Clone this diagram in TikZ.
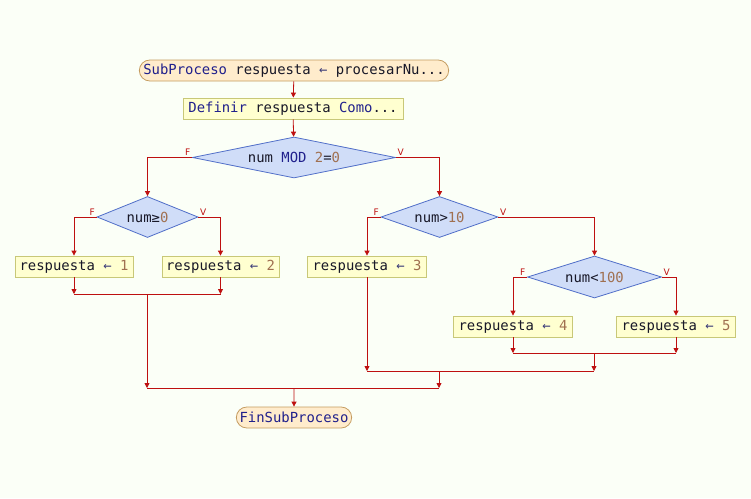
\documentclass[tikz,border=0pt]{standalone}
\usepackage{fontspec}
\usepackage{xcolor}
\newfontfamily\psmono{DejaVu Sans Mono}
\newfontfamily\pssans{DejaVu Sans}
\usetikzlibrary{arrows.meta,shapes.geometric,shapes.misc}
\definecolor{bgmint}{RGB}{251,255,247}
\definecolor{boxfill}{RGB}{255,255,208}
\definecolor{boxline}{RGB}{200,200,120}
\definecolor{condfill}{RGB}{208,221,248}
\definecolor{condline}{RGB}{80,110,200}
\definecolor{termfill}{RGB}{255,236,204}
\definecolor{termline}{RGB}{196,156,96}
\definecolor{flowred}{RGB}{190,16,16}
\definecolor{kwblue}{RGB}{32,32,140}
\definecolor{numbrown}{RGB}{160,112,80}
\definecolor{txtdark}{RGB}{24,24,40}
\definecolor{asgblue}{RGB}{60,60,120}
\newcommand{\kw}[1]{\textcolor{kwblue}{#1}}
\newcommand{\nm}[1]{\textcolor{numbrown}{#1}}
\newcommand{\asg}{\textcolor{asgblue}{←}}

\begin{document}
\begin{tikzpicture}[x=1pt,y=-1pt]
\tikzset{every node/.style={font=\psmono\fontsize{13.9}{14}\selectfont, text=txtdark}}
\tikzset{termbox/.style={rounded rectangle, draw=termline, fill=termfill, line width=0.8pt, minimum height=21pt, inner ysep=2pt}}
\tikzset{actbox/.style={rectangle, draw=boxline, fill=boxfill, line width=0.8pt, minimum height=21pt, inner ysep=2pt}}
\tikzset{cond/.style={diamond, draw=condline, fill=condfill, line width=0.8pt, aspect=4, inner sep=0pt}}
\tikzset{flow/.style={draw=flowred, line width=0.8pt, -{Triangle[length=5pt,width=5pt]}}}
\tikzset{joinline/.style={draw=flowred, line width=0.8pt}}
\tikzset{branch/.style={font=\pssans\fontsize{9}{9}\selectfont, text=flowred, inner sep=1.5pt}}
\fill[bgmint] (0,0) rectangle (751,498);
\node[termbox, minimum width=316pt] (start) at (294,70.5) {\kw{SubProceso} respuesta \asg{} procesarNu...};
\node[actbox, minimum width=220pt] (def) at (293,108.5) {\kw{Definir} respuesta \kw{Como}...};
\node[cond, minimum width=203pt, minimum height=41pt] (d1) at (294,157.5) {num \kw{MOD} \nm{2}=\nm{0}};
\node[cond, minimum width=101pt, minimum height=41pt] (d2) at (147.5,217) {num≥\nm{0}};
\node[cond, minimum width=117pt, minimum height=41pt] (d3) at (439.5,217) {num>\nm{10}};
\node[cond, minimum width=134pt, minimum height=42pt] (d4) at (594.5,277) {num<\nm{100}};
\node[actbox, minimum width=118pt] (b1) at (74,266.5) {respuesta \asg{} \nm{1}};
\node[actbox, minimum width=117pt] (b2) at (220.5,266.5) {respuesta \asg{} \nm{2}};
\node[actbox, minimum width=119pt] (b3) at (367,266.5) {respuesta \asg{} \nm{3}};
\node[actbox, minimum width=119pt] (b4) at (513,326.5) {respuesta \asg{} \nm{4}};
\node[actbox, minimum width=119pt] (b5) at (676,326.5) {respuesta \asg{} \nm{5}};
\node[termbox, minimum width=122pt] (fin) at (294,417.5) {\kw{FinSubProceso}};
\node[branch, anchor=south east] (f1) at (d1.west) {F};
\node[branch, anchor=south west] (v1) at (d1.east) {V};
\node[branch, anchor=south east] (f2) at (d2.west) {F};
\node[branch, anchor=south west] (v2) at (d2.east) {V};
\node[branch, anchor=south east] (f3) at (d3.west) {F};
\node[branch, anchor=south west] (v3) at (d3.east) {V};
\node[branch, anchor=south east] (f4) at (d4.west) {F};
\node[branch, anchor=south west] (v4) at (d4.east) {V};
\coordinate (m12) at (147,294);
\coordinate (m45) at (594,353);
\coordinate (m3) at (439,371);
\coordinate (mend) at (294,388);
\draw[flow] (start) -- (def);
\draw[flow] (def) -- (d1);
\draw[flow] (d1.west) -| (d2.north);
\draw[flow] (d1.east) -| (d3.north);
\draw[flow] (d2.west) -| (b1.north);
\draw[flow] (d2.east) -| (b2.north);
\draw[flow] (d3.west) -| (b3.north);
\draw[flow] (d3.east) -| (d4.north);
\draw[flow] (d4.west) -| (b4.north);
\draw[flow] (d4.east) -| (b5.north);
\draw[flow] (b1) -- (b1 |- m12);
\draw[flow] (b2) -- (b2 |- m12);
\draw[joinline] (b1 |- m12) -- (b2 |- m12);
\draw[flow] (m12) -- (m12 |- mend);
\draw[flow] (b4) -- (b4 |- m45);
\draw[flow] (b5) -- (b5 |- m45);
\draw[joinline] (b4 |- m45) -- (b5 |- m45);
\draw[flow] (m45) -- (m45 |- m3);
\draw[flow] (b3) -- (b3 |- m3);
\draw[joinline] (b3 |- m3) -- (m45 |- m3);
\draw[flow] (m3) -- (m3 |- mend);
\draw[joinline] (m12 |- mend) -- (m3 |- mend);
\draw[flow] (mend) -- (fin);
\end{tikzpicture}
\end{document}
